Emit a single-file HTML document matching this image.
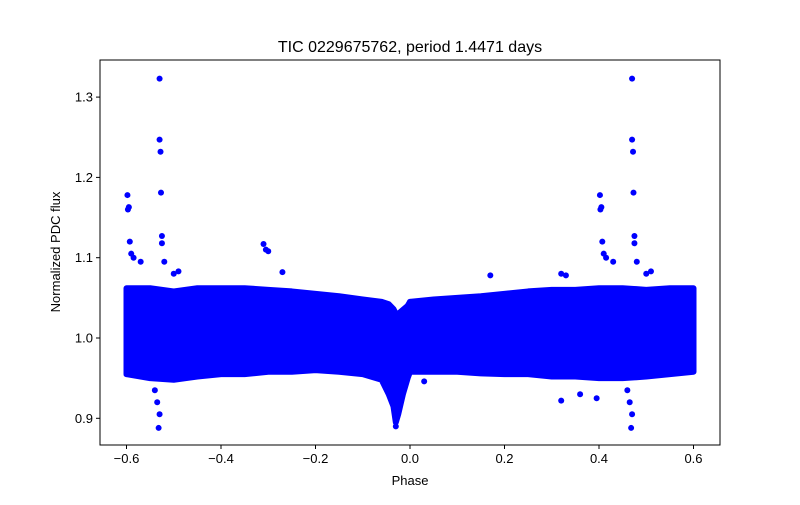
<!DOCTYPE html>
<html><head><meta charset="utf-8"><style>
body{margin:0;background:#fff;}
svg{font-family:"Liberation Sans","DejaVu Sans",sans-serif;}
</style></head><body>
<svg id="chart" width="800" height="500" viewBox="0 0 800 500">
<rect width="800" height="500" fill="#fff"/>
<text x="410" y="52" font-size="16" text-anchor="middle">TIC 0229675762, period 1.4471 days</text>
<g id="plot"></g>
<g id="axes"></g>
<text x="410" y="485" font-size="13" text-anchor="middle">Phase</text>
<text x="0" y="0" font-size="13" text-anchor="middle" transform="translate(60,252) rotate(-90)">Normalized PDC flux</text>
</svg>
<script>
const bandPhase=[-0.6,-0.55,-0.5,-0.45,-0.4,-0.35,-0.3,-0.25,-0.2,-0.15,-0.1,-0.06,-0.045,-0.035,-0.03,-0.025,-0.015,-0.005,0.0,0.05,0.1,0.15,0.2,0.25,0.3,0.35,0.4,0.45,0.5,0.55,0.6];
const bandUpper=[1.062,1.062,1.058,1.062,1.062,1.062,1.06,1.058,1.055,1.052,1.048,1.045,1.042,1.036,1.03,1.03,1.035,1.04,1.045,1.048,1.05,1.052,1.055,1.058,1.06,1.06,1.062,1.062,1.06,1.062,1.062];
const bandLower=[0.955,0.95,0.948,0.952,0.955,0.955,0.958,0.958,0.96,0.958,0.955,0.948,0.93,0.915,0.895,0.905,0.93,0.95,0.958,0.958,0.958,0.956,0.955,0.955,0.952,0.952,0.95,0.95,0.952,0.955,0.958];
const outPhase=[-0.53,-0.53,-0.528,-0.527,-0.525,-0.525,-0.598,-0.597,-0.595,-0.593,-0.59,-0.585,-0.57,-0.52,-0.5,-0.49,-0.31,-0.305,-0.3,-0.27,-0.53,-0.532,-0.535,-0.54,0.47,0.47,0.472,0.473,0.475,0.475,0.402,0.403,0.405,0.407,0.41,0.415,0.43,0.48,0.5,0.51,0.47,0.468,0.465,0.46,0.32,0.36,0.395,0.17,0.32,0.33,-0.03,0.0,0.03];
const outFlux=[1.323,1.247,1.232,1.181,1.127,1.118,1.178,1.16,1.163,1.12,1.105,1.1,1.095,1.095,1.08,1.083,1.117,1.11,1.108,1.082,0.905,0.888,0.92,0.935,1.323,1.247,1.232,1.181,1.127,1.118,1.178,1.16,1.163,1.12,1.105,1.1,1.095,1.095,1.08,1.083,0.905,0.888,0.92,0.935,0.922,0.93,0.925,1.078,1.08,1.078,0.89,1.045,0.946];
const xTicks=[-0.6,-0.4,-0.2,0.0,0.2,0.4,0.6];
const xTickLabels=["−0.6","−0.4","−0.2","0.0","0.2","0.4","0.6"];
const yTicks=[0.9,1.0,1.1,1.2,1.3];
const yTickLabels=["0.9","1.0","1.1","1.2","1.3"];

const L=100,R=720,T=60,B=445;
const xs=p=>410+p*472.5;
const ys=f=>338-(f-1.0)*803;
const NS="http://www.w3.org/2000/svg";
const plot=document.getElementById('plot'),axes=document.getElementById('axes');
function mk(t,a,parent){const e=document.createElementNS(NS,t);for(const k in a)e.setAttribute(k,a[k]);parent.appendChild(e);return e;}

let pts=bandPhase.map((p,i)=>xs(p)+','+ys(bandUpper[i]));
for(let i=bandPhase.length-1;i>=0;i--)pts.push(xs(bandPhase[i])+','+ys(bandLower[i]));
const band=mk('polygon',{points:pts.join(' '),fill:'#0000ff',stroke:'#0000ff','stroke-width':6,'stroke-linejoin':'round'},plot);


outPhase.forEach((p,i)=>{
 const c=mk('circle',{cx:xs(p),cy:ys(outFlux[i]),r:3,fill:'#0000ff'},plot);
 
 
});
const frame=mk('rect',{x:L,y:T,width:R-L,height:B-T,fill:'none',stroke:'#000','stroke-width':1},axes);


xTicks.forEach((v,i)=>{
 const x=xs(v);
 const tk=mk('line',{x1:x,x2:x,y1:B,y2:B+4,stroke:'#000'},axes);
 
 
 const t=mk('text',{x:x,y:B+18,'font-size':13,'text-anchor':'middle'},axes);
 t.textContent=xTickLabels[i];
 
 
});
yTicks.forEach((v,i)=>{
 const y=ys(v);
 const tk=mk('line',{x1:L-4,x2:L,y1:y,y2:y,stroke:'#000'},axes);
 
 
 const t=mk('text',{x:L-7,y:y+4.5,'font-size':13,'text-anchor':'end'},axes);
 t.textContent=yTickLabels[i];
 
 
});
</script>
</body></html>
